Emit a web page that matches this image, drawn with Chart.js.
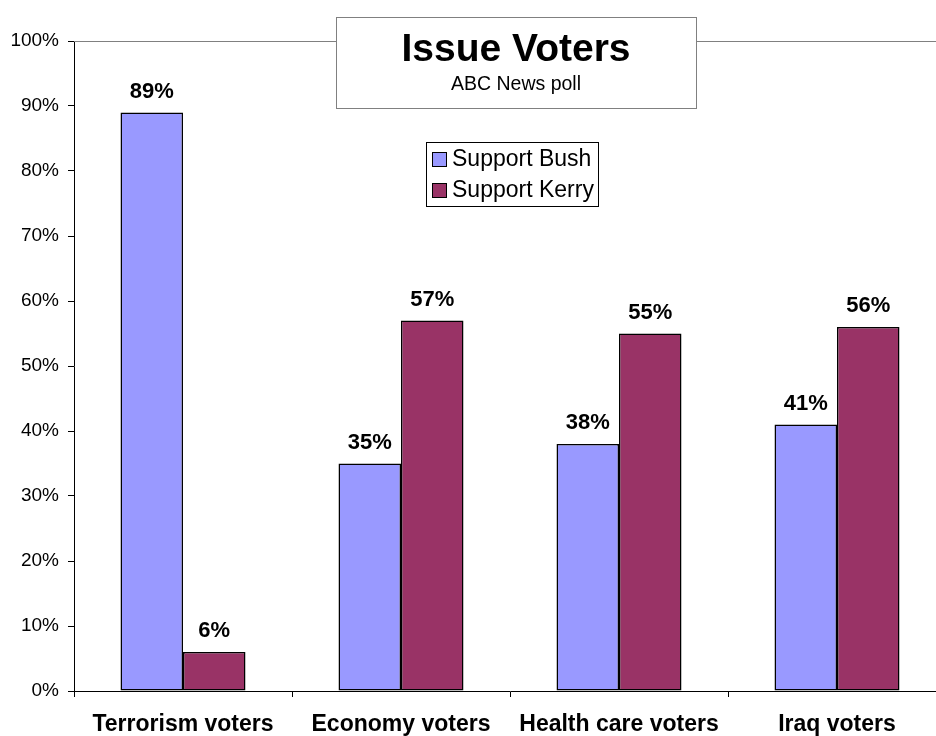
<!DOCTYPE html>
<html><head><meta charset="utf-8">
<script src="https://cdn.jsdelivr.net/npm/chart.js@4"></script>
<style>html,body{margin:0;padding:0;overflow:hidden;background:#fff}#wrap{width:960px;height:736px}</style>
</head><body><div id="wrap"><canvas id="c" width="960" height="736"></canvas></div>
<script>
const categories = ["Terrorism voters", "Economy voters", "Health care voters", "Iraq voters"];
const bushValues = [89, 35, 38, 41];
const kerryValues = [6, 57, 55, 56];
const seriesNames = ["Support Bush", "Support Kerry"];
const titleText = "Issue Voters";
const subtitleText = "ABC News poll";
const FONT = "'Liberation Sans', Arial, sans-serif";

const overlay = {
  id: 'overlay',
  afterDatasetsDraw(chart) {
    const ctx = chart.ctx, ca = chart.chartArea;
    ctx.save();
    ctx.strokeStyle = '#808080'; ctx.lineWidth = 1;
    ctx.beginPath(); ctx.moveTo(ca.left, ca.top + 0.5); ctx.lineTo(ca.right, ca.top + 0.5); ctx.stroke();
    ctx.fillStyle = '#000';
    ctx.font = 'bold 22px ' + FONT;
    ctx.textAlign = 'center'; ctx.textBaseline = 'middle';
    chart.data.datasets.forEach((ds, i) => {
      chart.getDatasetMeta(i).data.forEach((bar, j) => {
        ctx.fillText(ds.data[j] + '%', bar.x, bar.y - 21);
      });
    });
    ctx.fillStyle = '#fff';
    ctx.fillRect(336, 17, 360, 91);
    ctx.strokeStyle = '#808080';
    ctx.strokeRect(336.5, 17.5, 360, 91);
    ctx.fillStyle = '#000';
    ctx.font = 'bold 39px ' + FONT;
    ctx.fillText(titleText, 516, 50);
    ctx.font = '19.5px ' + FONT;
    ctx.fillText(subtitleText, 516, 85);
    ctx.fillStyle = '#fff';
    ctx.fillRect(426, 142, 172, 64);
    ctx.strokeStyle = '#000';
    ctx.strokeRect(426.5, 142.5, 172, 64);
    ctx.textAlign = 'left';
    ctx.font = '23px ' + FONT;
    chart.data.datasets.forEach((ds, i) => {
      const y = 159 + i * 31;
      ctx.fillStyle = ds.backgroundColor;
      ctx.fillRect(432, y - 7, 14, 14);
      ctx.strokeStyle = '#000';
      ctx.strokeRect(432.5, y - 6.5, 14, 14);
      ctx.fillStyle = '#000';
      ctx.fillText(ds.label, 452, y + 1);
    });
    ctx.restore();
  }
};

const barCommon = { borderColor: '#000', borderWidth: 1.5, borderSkipped: false, categoryPercentage: 125 / 218, barPercentage: 1 };

new Chart(document.getElementById('c'), {
  type: 'bar',
  data: {
    labels: categories,
    datasets: [
      Object.assign({ label: seriesNames[0], data: bushValues, backgroundColor: '#9999FF' }, barCommon),
      Object.assign({ label: seriesNames[1], data: kerryValues, backgroundColor: '#993366' }, barCommon)
    ]
  },
  options: {
    responsive: false, animation: false,
    layout: { padding: { top: 41, right: 14, left: 0, bottom: 0 } },
    plugins: { legend: { display: false }, title: { display: false }, tooltip: { enabled: false } },
    scales: {
      x: {
        grid: { display: true, drawOnChartArea: false, offset: true, tickLength: 6, color: '#000' },
        border: { color: '#000' },
        ticks: { color: '#000', font: { family: FONT, size: 23, weight: 'bold' }, padding: 14, maxRotation: 0, autoSkip: false },
        afterFit(s) { s.height = 45; }
      },
      y: {
        min: 0, max: 100,
        grid: { display: true, drawOnChartArea: false, tickLength: 6, color: '#000' },
        border: { color: '#000' },
        ticks: { stepSize: 10, color: '#000', font: { family: FONT, size: 19 }, padding: 9, callback: v => v + '%' },
        afterFit(s) { s.width = 74; }
      }
    }
  },
  plugins: [overlay]
});
</script></body></html>
